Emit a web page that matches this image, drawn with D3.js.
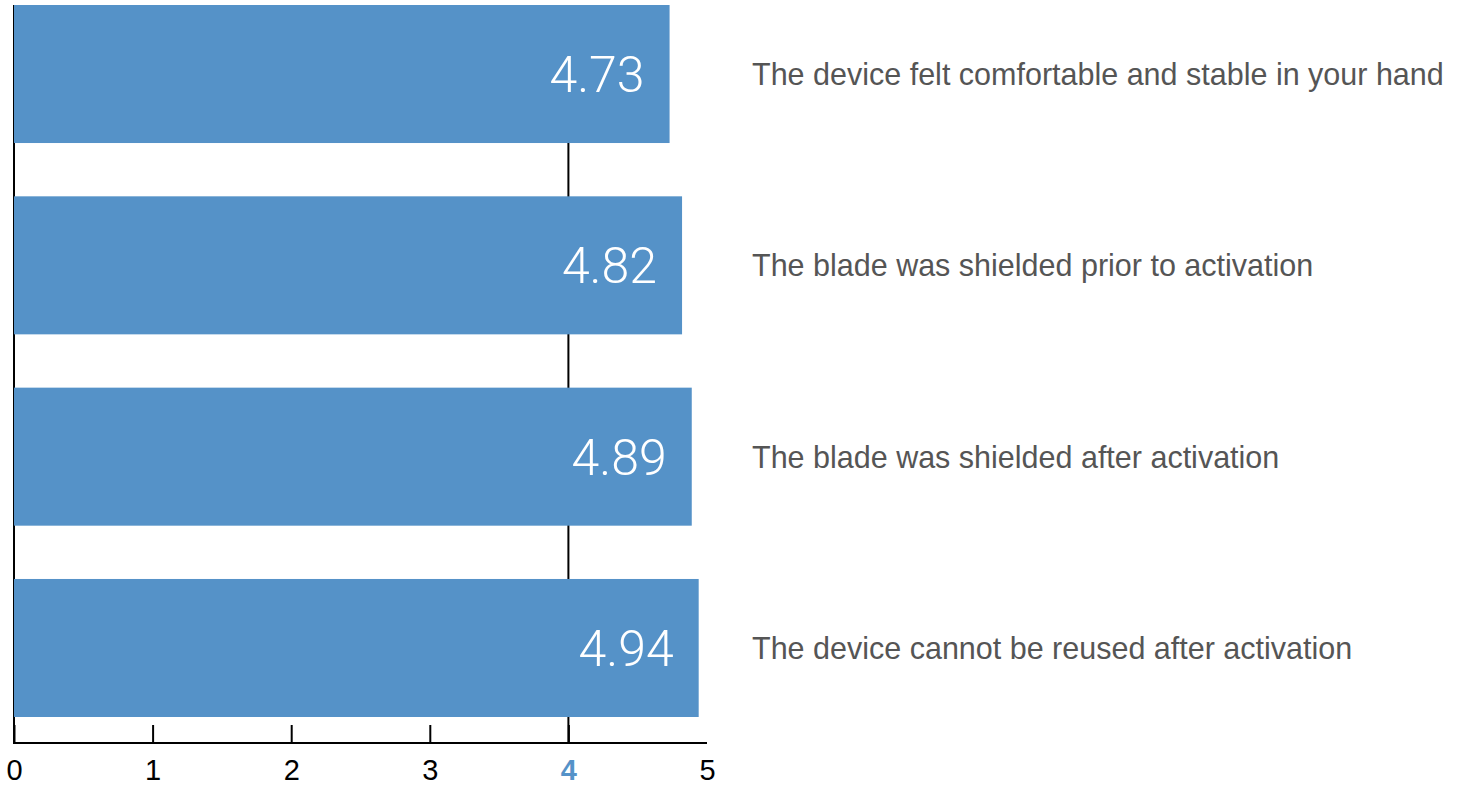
<!DOCTYPE html>
<head>
  <meta charset="utf-8">
  <script src="https://d3js.org/d3.v7.min.js"></script>
  <style>
    body { margin: 0; background: #fff; }
  </style>
</head>
<body>
  <script>
    var categories = [
      "The device felt comfortable and stable in your hand",
      "The blade was shielded prior to activation",
      "The blade was shielded after activation",
      "The device cannot be reused after activation"
    ];
    var values = [4.73, 4.82, 4.89, 4.94];
    var tickValues = [0, 1, 2, 3, 4, 5];
    var highlightTick = 4;

    var width = 1466, height = 786;
    var barColor = "#5592c8";

    var svg = d3.select("body").append("svg")
      .attr("width", width)
      .attr("height", height);

    var x = d3.scaleLinear()
              .domain([0, 5])
              .range([14, 707]);

    var y = d3.scaleBand()
              .domain(categories)
              .range([5, 717])
              .paddingInner(0.2786)
              .paddingOuter(0);

    var axisY = 743;

    // full-height lines at 0 and the highlighted tick
    svg.selectAll("line.grid").data([0, highlightTick])
      .enter().append("line")
        .attr("class", "grid")
        .attr("x1", x).attr("x2", x)
        .attr("y1", y(categories[0]))
        .attr("y2", axisY)
        .attr("stroke", "#000")
        .attr("stroke-width", 2);

    svg.selectAll("rect").data(values)
      .enter().append("rect")
        .attr("x", x(0))
        .attr("y", function(d, i) { return y(categories[i]); })
        .attr("width", function(d) { return x(d) - x(0); })
        .attr("height", y.bandwidth())
        .attr("fill", barColor);

    // value labels inside bars
    svg.selectAll("text.val").data(values)
      .enter().append("text")
        .attr("class", "val")
        .attr("x", function(d) { return x(d) - 25; })
        .attr("y", function(d, i) { return y(categories[i]) + y.bandwidth() / 2 + 18; })
        .attr("text-anchor", "end")
        .attr("fill", "#fff")
        .style("font-family", "'Helvetica Neue', Roboto, 'Liberation Sans', sans-serif")
        .style("font-weight", 300)
        .style("font-size", "50px")
        .text(function(d) { return d.toFixed(2); });

    // category labels on the right
    svg.selectAll("text.cat").data(categories)
      .enter().append("text")
        .attr("class", "cat")
        .attr("x", 752)
        .attr("y", function(d) { return y(d) + y.bandwidth() / 2 + 11; })
        .attr("fill", "#555")
        .style("font-family", "'Helvetica Neue', 'Liberation Sans', Arial, sans-serif")
        .style("font-size", "30.5px")
        .text(function(d) { return d; });

    // x axis
    var axis = svg.append("g")
      .attr("transform", "translate(0," + axisY + ")")
      .call(d3.axisBottom(x).tickValues(tickValues).tickSize(-18).tickFormat(d3.format("d")));

    axis.select(".domain")
      .attr("d", "M" + (x(0) - 1) + ",0H" + x(5))
      .attr("stroke", "#000")
      .attr("stroke-width", 2);
    axis.selectAll(".tick line")
      .attr("stroke", "#000")
      .attr("stroke-width", 2)
      .attr("display", function(d) { return d === 5 ? "none" : null; });
    axis.selectAll(".tick text")
      .attr("y", 37)
      .attr("dy", 0)
      .attr("fill", function(d) { return d === highlightTick ? barColor : "#000"; })
      .style("font-family", "'Helvetica Neue', 'Liberation Sans', Arial, sans-serif")
      .style("font-weight", function(d) { return d === highlightTick ? "bold" : "normal"; })
      .style("font-size", "29px");
  </script>
</body>
